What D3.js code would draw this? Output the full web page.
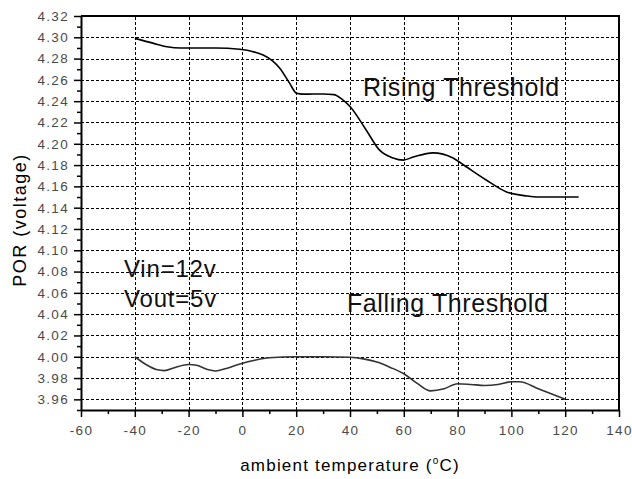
<!doctype html>
<html lang='en'>
<head>
    <meta charset='UTF-8'>
    <title>POR vs temperature</title>
    <style>
        html, body {
            margin: 0;
            background: #fff;
        }
        svg text {
            font-family: "Liberation Sans", Arial, sans-serif;
        }
        .tick text {
            font-size: 13.5px;
            letter-spacing: 1.3px;
            fill: #4a4a4a;
        }
        .note {
            fill: #111;
        }
    </style>
</head>
<body>
    <script src='https://cdn.jsdelivr.net/npm/d3@7/dist/d3.min.js'></script>
    <div class='chart'></div>
    <script>
        // values
        const risingTemp = [-40, -33, -28, -23, -10, -1, 4, 7.7, 11.3, 13.9, 17.6, 20.1, 22.5,
            26, 30, 34, 37, 40, 46, 51, 56, 59.8, 63.5, 70.8, 78.3, 83.2, 90.6, 98, 105.7, 110, 125];
        const risingVolt = [4.299, 4.2943, 4.2912, 4.290, 4.290, 4.2887, 4.2865, 4.2833, 4.2777,
            4.271, 4.2567, 4.2474, 4.2466, 4.2467, 4.2468, 4.2462, 4.242, 4.235, 4.213, 4.194,
            4.1867, 4.1847, 4.1875, 4.1915, 4.1867, 4.1784, 4.166, 4.155, 4.151, 4.150, 4.150];

        const fallingTemp = [-40, -36, -32, -29, -25, -20, -17, -13, -10, -6, 0, 5, 10, 20, 30,
            40, 45, 50, 55, 60, 65, 70, 75, 80, 85, 90, 95, 100, 103, 110, 115, 120];
        const fallingVolt = [4.000, 3.993, 3.988, 3.987, 3.990, 3.9927, 3.992, 3.988, 3.9866,
            3.989, 3.994, 3.997, 3.999, 4.000, 4.000, 3.9995, 3.998, 3.995, 3.990, 3.984, 3.975,
            3.968, 3.970, 3.9747, 3.974, 3.973, 3.974, 3.9765, 3.9765, 3.970, 3.965, 3.960];

        const xTicks = [-60, -40, -20, 0, 20, 40, 60, 80, 100, 120, 140];
        const yTicks = [3.96, 3.98, 4.00, 4.02, 4.04, 4.06, 4.08, 4.10, 4.12, 4.14, 4.16, 4.18,
            4.20, 4.22, 4.24, 4.26, 4.28, 4.30, 4.32];

        const width = 632;
        const height = 479;
        const margin = {top: 16, right: 13, bottom: 69, left: 81};

        const svg = d3.select('.chart')
            .append('svg')
            .attr('width', width)
            .attr('height', height);

        const x = d3.scaleLinear()
            .domain([-60, 140])
            .range([margin.left, width - margin.right]);

        const y = d3.scaleLinear()
            .domain([3.95, 4.32])
            .range([height - margin.bottom, margin.top]);

        // dashed grid
        const grid = svg.append('g')
            .attr('stroke', '#000')
            .attr('stroke-width', 1)
            .attr('stroke-dasharray', '3,2');

        grid.selectAll('.vgrid')
            .data(xTicks.slice(1, -1))
            .join('line')
            .attr('x1', (d) => Math.round(x(d)) + 0.5)
            .attr('x2', (d) => Math.round(x(d)) + 0.5)
            .attr('y1', y.range()[0])
            .attr('y2', y.range()[1]);

        grid.selectAll('.hgrid')
            .data(yTicks.slice(0, -1))
            .join('line')
            .attr('x1', x.range()[0])
            .attr('x2', x.range()[1])
            .attr('y1', (d) => Math.round(y(d)) + 0.5)
            .attr('y2', (d) => Math.round(y(d)) + 0.5);

        // minor ticks
        const xMinor = d3.range(-50, 140, 20);
        const yMinor = d3.range(3.95, 4.32, 0.02).map((v) => +v.toFixed(2));

        svg.append('g')
            .attr('transform', `translate(0,${y.range()[0]})`)
            .call(d3.axisBottom(x).tickValues(xMinor).tickSize(4).tickFormat(''))
            .call((g) => g.select('.domain').remove())
            .selectAll('line').attr('stroke-width', 1.5);

        svg.append('g')
            .attr('transform', `translate(${x.range()[0]},0)`)
            .call(d3.axisLeft(y).tickValues(yMinor).tickSize(4).tickFormat(''))
            .call((g) => g.select('.domain').remove())
            .selectAll('line').attr('stroke-width', 1.5);

        // major axes, plain hyphen for negatives
        const xAxis = svg.append('g')
            .attr('transform', `translate(0,${y.range()[0]})`)
            .call(d3.axisBottom(x).tickValues(xTicks).tickFormat((d) => String(d))
                .tickSize(7).tickSizeOuter(0).tickPadding(8));

        const yAxis = svg.append('g')
            .attr('transform', `translate(${x.range()[0]},0)`)
            .call(d3.axisLeft(y).tickValues(yTicks).tickFormat((d) => d.toFixed(2))
                .tickSize(7).tickSizeOuter(0).tickPadding(5));

        [xAxis, yAxis].forEach((g) => {
            g.select('.domain').attr('stroke-width', 2);
            g.selectAll('.tick line').attr('stroke-width', 1.5);
        });

        // frame top and right
        svg.append('path')
            .attr('d', `M${x.range()[0]},${y.range()[1]}H${x.range()[1]}V${y.range()[0]}`)
            .attr('fill', 'none')
            .attr('stroke', '#000')
            .attr('stroke-width', 2);

        // curves
        const line = d3.line()
            .x((d) => x(d[0]))
            .y((d) => y(d[1]))
            .curve(d3.curveMonotoneX);

        svg.append('path')
            .datum(d3.zip(risingTemp, risingVolt))
            .attr('d', line)
            .attr('fill', 'none')
            .attr('stroke', '#000')
            .attr('stroke-width', 1.6);

        svg.append('path')
            .datum(d3.zip(fallingTemp, fallingVolt))
            .attr('d', line)
            .attr('fill', 'none')
            .attr('stroke', '#333')
            .attr('stroke-width', 1.6);

        // annotations
        const notes = svg.append('g').attr('class', 'note');

        notes.append('text')
            .attr('x', 363).attr('y', 96)
            .style('font-size', '25px').style('letter-spacing', '0.6px')
            .text('Rising Threshold');

        notes.append('text')
            .attr('x', 347).attr('y', 312)
            .style('font-size', '25px').style('letter-spacing', '0.6px')
            .text('Falling Threshold');

        notes.append('text')
            .attr('x', 124).attr('y', 277)
            .style('font-size', '24px').style('letter-spacing', '0.8px')
            .text('Vin=12v');

        notes.append('text')
            .attr('x', 124).attr('y', 307)
            .style('font-size', '24px').style('letter-spacing', '0.8px')
            .text('Vout=5v');

        // axis titles
        const xTitle = svg.append('text')
            .attr('x', (x.range()[0] + x.range()[1]) / 2)
            .attr('y', 471)
            .attr('text-anchor', 'middle')
            .style('font-size', '17px')
            .style('letter-spacing', '1.2px')
            .attr('fill', '#000');
        xTitle.append('tspan').text('ambient temperature (');
        xTitle.append('tspan').attr('dy', -7).style('font-size', '10px').text('o');
        xTitle.append('tspan').attr('dy', 7).text('C)');

        svg.append('text')
            .attr('transform', 'translate(26,220) rotate(-90)')
            .attr('text-anchor', 'middle')
            .style('font-size', '18px')
            .style('letter-spacing', '1.5px')
            .attr('fill', '#000')
            .text('POR (voltage)');
    </script>
</body>
</html>
